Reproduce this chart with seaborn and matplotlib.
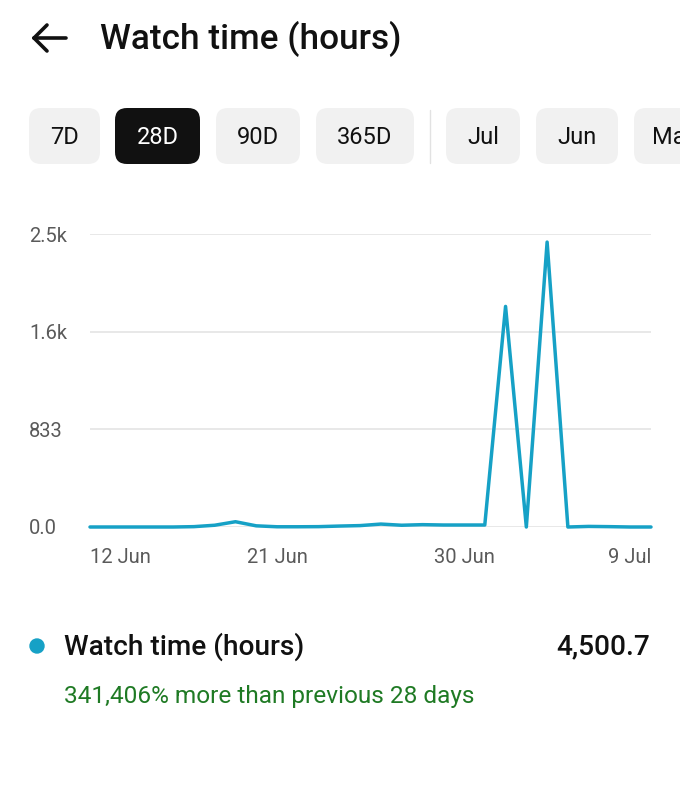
import matplotlib
matplotlib.use("Agg")
import matplotlib.pyplot as plt
import seaborn as sns
import pandas as pd
from matplotlib.patches import FancyBboxPatch, Circle
from matplotlib.lines import Line2D

# data (28 days, 12 Jun - 9 Jul)
start_day = "2024-06-12"
watch_hours = [0, 0, 0, 0, 0, 3, 15, 45, 10, 2, 2, 3, 8, 12,
               25, 15, 20, 17, 17, 17, 1882, 0, 2431, 0, 5, 3, 0, 0]
x_tick_days = ["2024-06-12", "2024-06-21", "2024-06-30", "2024-07-09"]
x_tick_labels = ["12 Jun", "21 Jun", "30 Jun", "9 Jul"]
y_ticks = [0, 2500 / 3, 5000 / 3, 2500]
y_tick_labels = ["0.0", "833", "1.6k", "2.5k"]
tab_labels = ["7D", "28D", "90D", "365D", "Jul", "Jun", "Ma"]
selected_tab = "28D"
series_name = "Watch time (hours)"
total_text = "4,500.7"
change_text = "341,406% more than previous 28 days"

LINE_COLOR = "#16a1c6"
GREEN = "#1f7a24"
TEXT = "#111111"
GREY_TXT = "#5a5a5a"

sns.set_theme(style="white")
plt.rcParams["font.family"] = ["Roboto", "DejaVu Sans"]

W, H = 680, 788
fig = plt.figure(figsize=(W / 100, H / 100), dpi=100)
fig.patch.set_facecolor("white")

# pixel-space layer for the app chrome
bg = fig.add_axes([0, 0, 1, 1], zorder=0)
bg.set_xlim(0, W)
bg.set_ylim(H, 0)
bg.axis("off")

# back arrow + title
for seg in [((34, 66), (38, 38)), ((34, 47), (38, 25)), ((34, 47), (38, 51))]:
    bg.add_line(Line2D(seg[0], seg[1], color=TEXT, lw=2.6, solid_capstyle="round"))
bg.text(100, 39, "Watch time (hours)", fontsize=25.3, fontweight="medium",
        color=TEXT, ha="left", va="center")

# period tabs (the last one runs off the screen edge)
tab_x = [(29, 100), (115, 200), (216, 300), (316, 414), (446, 520), (536, 618), (634, 720)]
for (x0, x1), lab in zip(tab_x, tab_labels):
    sel = lab == selected_tab
    bg.add_patch(FancyBboxPatch((x0, 108), x1 - x0, 56,
                                boxstyle="round,pad=0,rounding_size=12",
                                fc="#111111" if sel else "#f1f1f1", ec="none"))
    last = lab == tab_labels[-1]
    bg.text(652 if last else (x0 + x1) / 2, 137, lab, fontsize=17,
            color="white" if sel else TEXT,
            ha="left" if last else "center", va="center")
bg.add_line(Line2D((430, 430), (110, 163), color="#e2e2e2", lw=1))

# legend / summary
bg.add_patch(Circle((37, 646), 7, color=LINE_COLOR))
bg.text(64, 647, series_name, fontsize=20.2, fontweight="medium",
        color=TEXT, ha="left", va="center")
bg.text(650, 647, total_text, fontsize=20.2, fontweight="medium",
        color=TEXT, ha="right", va="center")
bg.text(64, 697, change_text, fontsize=17.6, color=GREEN, ha="left", va="center")

# chart
df = pd.DataFrame({"day": pd.date_range(start_day, periods=len(watch_hours)),
                   "hours": watch_hours})
ax = fig.add_axes([90 / W, 1 - 527 / H, (651 - 90) / W, (527 - 234) / H], zorder=1)
ax.patch.set_alpha(0)
sns.lineplot(data=df, x="day", y="hours", color=LINE_COLOR, linewidth=2.5,
             ax=ax, zorder=3, clip_on=False)
ax.set_xlim(df["day"].iloc[0], df["day"].iloc[-1])
ax.set_ylim(0, 2500)
ax.set_yticks(y_ticks)
ax.set_yticklabels(y_tick_labels)
ax.set_xticks(pd.to_datetime(x_tick_days))
ax.set_xticklabels(x_tick_labels)
ax.set_xlabel("")
ax.set_ylabel("")
ax.grid(axis="y", color="#e4e4e4", lw=1.2)
ax.grid(axis="x", visible=False)
sns.despine(ax=ax, left=True, bottom=True)
ax.tick_params(axis="y", length=0, pad=44, labelsize=14.5, labelcolor=GREY_TXT)
ax.tick_params(axis="x", length=0, pad=15, labelsize=14.5, labelcolor=GREY_TXT)
for lab in ax.get_yticklabels():
    lab.set_ha("left")
xl = ax.get_xticklabels()
xl[0].set_ha("left")
xl[-1].set_ha("right")

fig.savefig("out.png", dpi=100, facecolor="white")
